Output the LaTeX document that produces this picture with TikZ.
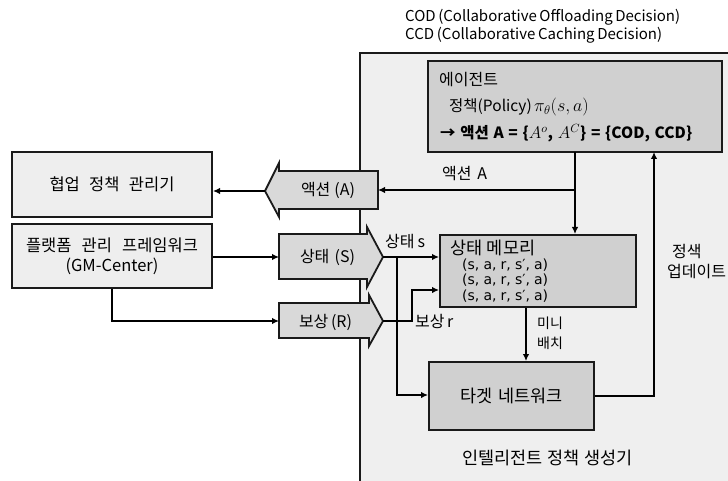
\documentclass[tikz,border=0pt]{standalone}
\usepackage{fix-cm}
\usepackage{fontspec}
\setmainfont{Noto Sans CJK KR}
\newfontfamily\tuplefont{DejaVu Sans}
\usetikzlibrary{arrows.meta}
\newcommand\spreadto[2]{\makebox[#1][s]{#2}}
\definecolor{regionbg}{HTML}{EFEFEF}
\definecolor{lightbox}{HTML}{EEEEEE}
\definecolor{arrowfill}{HTML}{D9D9D9}
\definecolor{darkbox}{HTML}{D0D0D0}
\definecolor{edgecol}{HTML}{1A1A1A}
\tikzset{
  lbl/.style={font=\fontsize{15}{18}\selectfont, inner sep=0pt},
  krlbl/.style={font=\fontsize{16}{18}\selectfont, inner sep=0pt},
  dotlbl/.style={font=\fontsize{17.5}{18}\selectfont, inner sep=0pt},
  leftbox/.style={draw=edgecol, line width=2pt, fill=lightbox, inner sep=0pt, font=\fontsize{16.5}{20}\selectfont, align=center},
  grbox/.style={draw=edgecol, line width=2pt, fill=darkbox, inner sep=0pt},
  bigarrow/.style={draw=edgecol, line width=1.8pt, fill=arrowfill, line join=miter},
  conn/.style={line width=2pt, draw=black, -{Latex[length=7pt,width=6.5pt]}},
}
\begin{document}
\begin{tikzpicture}[x=1pt,y=-1pt]
\useasboundingbox (0,0) rectangle (728,481);
\fill[white] (0,0) rectangle (728,481);
% intelligent policy generator region
\fill[regionbg] (360,53) rectangle (728,481);
\draw[line width=1.8pt, edgecol] (360,481) -- (360,53) -- (728,53);

% top notes
\node[lbl, anchor=west] (cod) at (405,17) {\spreadto{275pt}{COD (Collaborative Offloading Decision)}};
\node[lbl, anchor=west] (ccd) at (405,35) {\spreadto{257pt}{CCD (Collaborative Caching Decision)}};

% agent box
\node[grbox, minimum width=294pt, minimum height=91pt] (agent) at (575,106.5) {};
\node[krlbl, anchor=west] (agt1) at (439,80) {에이전트};
\node[lbl, anchor=west, font=\fontsize{15.5}{18}\selectfont] (agt2) at (449,107) {\spreadto{138pt}{정책(Policy) {\fontsize{18}{18}\selectfont$\pi_\theta(s,a)$}}};
\node[lbl, anchor=west, font=\fontsize{15.5}{18}\selectfont] (agt3) at (440,133) {\bfseries\spreadto{252pt}{→ 액션 A = \{{\fontsize{17}{17}\selectfont$A^o$}, {\fontsize{17}{17}\selectfont$A^C$}\} = \{COD, CCD\}}};

% left boxes
\node[leftbox, minimum width=200pt, minimum height=65pt] (mgr) at (112,184.5) {\spreadto{125pt}{협업 정책 관리기}};
\node[leftbox, minimum width=200pt, minimum height=64pt] (plat) at (112,256) {\spreadto{172pt}{플랫폼 관리 프레임워크}\\(GM-Center)};

% big arrows
\draw[bigarrow] (265,191) -- (279,163) -- (279,171) -- (378,171) -- (378,209) -- (279,209) -- (279,217) -- cycle;
\coordinate (actTip) at (265,191);
\coordinate (actBack) at (378,190);
\node[krlbl] (actlbl) at (328,190) {\spreadto{54pt}{액션 (A)}};

\draw[bigarrow] (279,234) -- (367,234) -- (367,227) -- (383,257) -- (367,287) -- (367,279) -- (279,279) -- cycle;
\coordinate (stTip) at (383,257);
\coordinate (stBack) at (279,257);
\node[krlbl] (stlbl) at (327.5,257) {\spreadto{55pt}{상태 (S)}};

\draw[bigarrow] (279,303) -- (369,303) -- (369,295) -- (383,321) -- (369,346) -- (369,338) -- (279,338) -- cycle;
\coordinate (rwTip) at (383,321);
\coordinate (rwBack) at (279,321);
\node[krlbl] (rwlbl) at (325.5,322) {\spreadto{53pt}{보상 (R)}};

% memory and target
\node[grbox, minimum width=196pt, minimum height=72pt] (mem) at (538,271) {};
\node[dotlbl, anchor=west] (memt) at (450,248) {\spreadto{85pt}{상태 메모리}};
\node[font=\tuplefont\fontsize{14}{16}\selectfont, inner sep=0pt, anchor=west] (tu1) at (462,265) {\spreadto{86pt}{(s, a, r, s′, a)}};
\node[font=\tuplefont\fontsize{14}{16}\selectfont, inner sep=0pt, anchor=west] (tu2) at (462,280) {\spreadto{86pt}{(s, a, r, s′, a)}};
\node[font=\tuplefont\fontsize{14}{16}\selectfont, inner sep=0pt, anchor=west] (tu3) at (462,296) {\spreadto{86pt}{(s, a, r, s′, a)}};

\node[grbox, minimum width=165pt, minimum height=68pt, font=\fontsize{17.5}{18}\selectfont] (tgt) at (511.5,396) {\spreadto{102pt}{타겟 네트워크}};

\node[dotlbl] (region) at (547.5,458) {\spreadto{171pt}{인텔리전트 정책 생성기}};

% connector helper coordinates
\coordinate (agDown) at (575,152);
\coordinate (agBranch) at (575,190);
\coordinate (agUp) at (654,152);
\coordinate (sSplit) at (397,257);
\coordinate (sDown) at (397,395);
\coordinate (rBend1) at (412,321);
\coordinate (rBend2) at (412,290);
\coordinate (tgtCorner) at (654,396);

% connectors
\draw[conn] (agDown) -- (mem.north -| agDown);
\draw[conn] (agBranch) -- (actBack);
\draw[conn] (actTip) -- (mgr.east |- actTip);
\draw[conn] (plat.east |- stBack) -- (stBack);
\draw[conn] (plat.south) |- (rwBack);
\draw[conn] (stTip) -- (mem.west |- stTip);
\draw[conn] (sSplit) -- (sDown) -- (tgt.west |- sDown);
\draw[conn] (rwTip) -- (rBend1) -- (rBend2) -- (mem.west |- rBend2);
\draw[conn] (mem.south -| 526,0) -- (tgt.north -| 526,0);
\draw[conn] (tgt.east |- tgtCorner) -- (tgtCorner) -- (agUp);

% connector labels
\node[krlbl, anchor=west] (lblA) at (442,174) {\spreadto{45pt}{액션 A}};
\node[krlbl, anchor=west] (lblS) at (385,242) {\spreadto{40pt}{상태 s}};
\node[krlbl, anchor=west] (lblR) at (415,321) {\spreadto{38pt}{보상 r}};
\node[font=\fontsize{14}{20}\selectfont, inner sep=0pt, anchor=west, align=left] (lblMB) at (537,333) {미니\\배치};
\node[anchor=west, inner sep=0pt, align=left, font=\fontsize{16}{20}\selectfont] (lblUp) at (667,262) {\hspace*{5pt}정색\\업데이트};
\end{tikzpicture}
\end{document}
